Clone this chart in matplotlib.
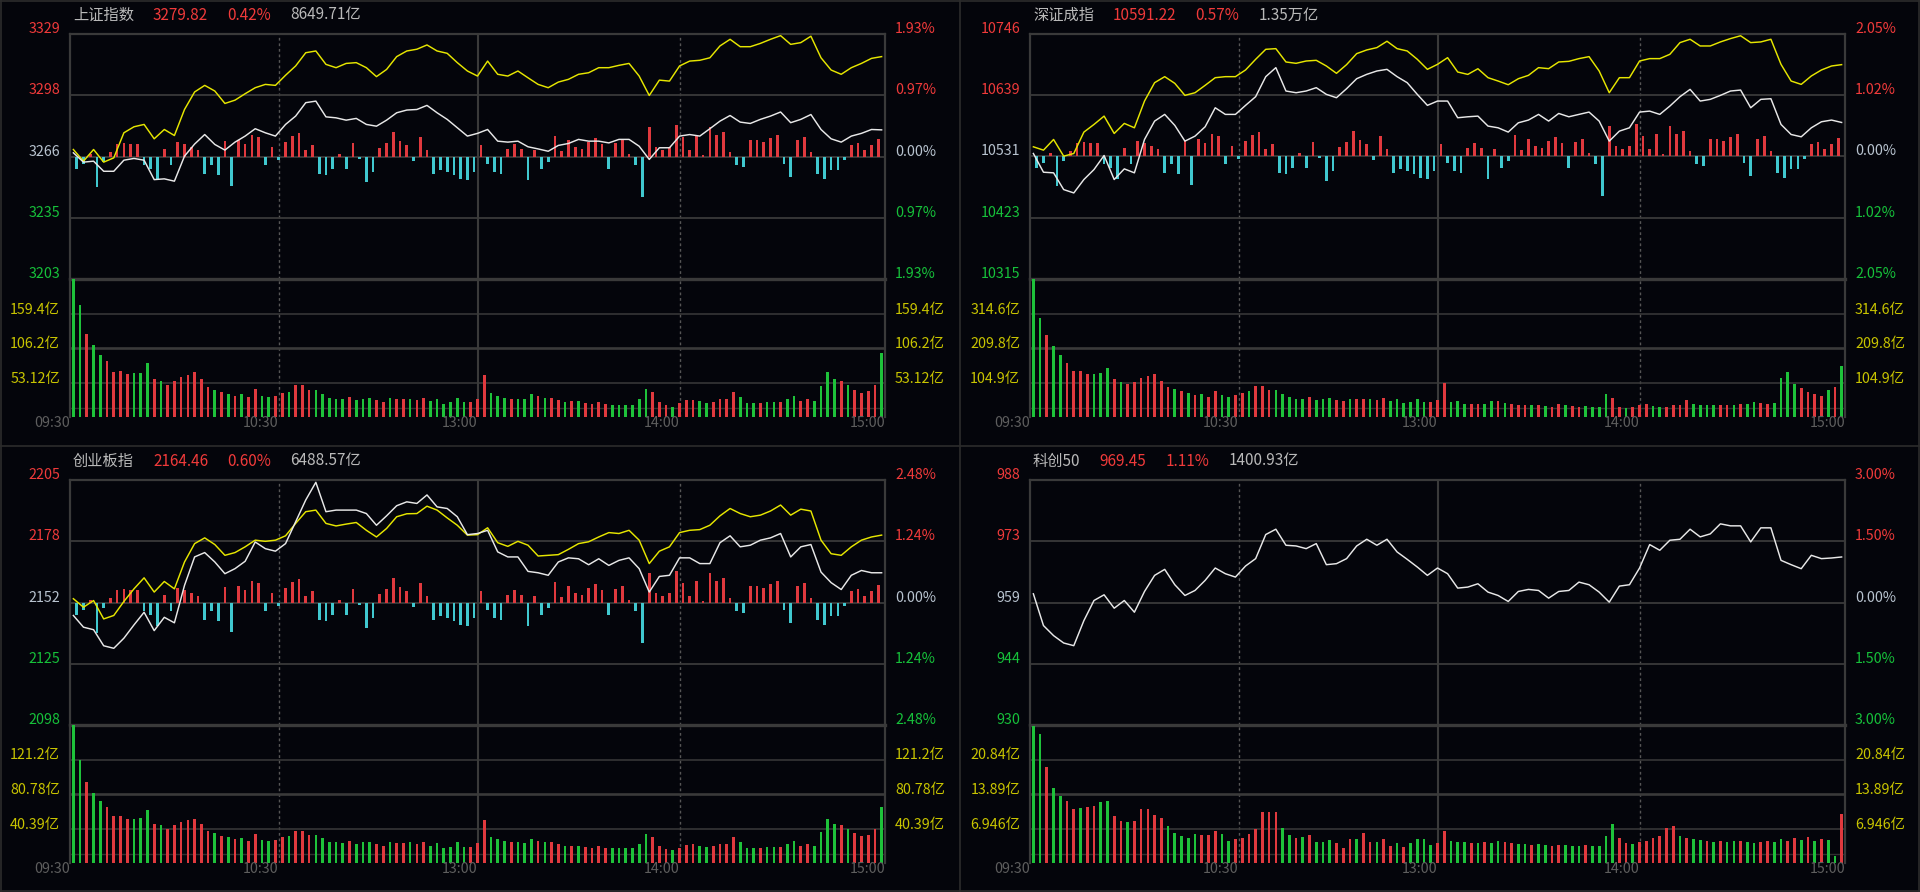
import numpy as np
import matplotlib
matplotlib.use("Agg")
import matplotlib.pyplot as plt
from matplotlib.transforms import offset_copy
from matplotlib.lines import Line2D

plt.rcParams['font.family'] = ['Noto Sans CJK SC', 'DejaVu Sans']

# ---- data (lines sampled every 3 min, bars every 2 min, 09:30 -> 15:00) ----
TIME_LABELS = ["09:30", "10:30", "13:00", "14:00", "15:00"]
TIME_POS = [-1, 61, 120, 180, 241]

SH_WHITE = [3268.0, 3263.2, 3263.7, 3258.5, 3258.5, 3264.2, 3265.1, 3264.2, 3254.2, 3254.6,
            3253.4, 3266.3, 3272.5, 3277.4, 3272.3, 3269.4, 3273.5, 3276.6, 3280.4, 3278.3,
            3276.6, 3282.6, 3286.9, 3293.8, 3294.6, 3286.5, 3286.0, 3284.8, 3285.7, 3282.6,
            3281.7, 3284.8, 3288.6, 3290.0, 3290.3, 3292.4, 3288.6, 3285.2, 3280.9, 3276.6,
            3278.0, 3280.0, 3274.0, 3273.5, 3274.0, 3271.1, 3270.0, 3268.8, 3271.8, 3272.8,
            3274.9, 3274.0, 3274.0, 3273.1, 3274.9, 3274.9, 3271.4, 3264.6, 3270.6, 3270.6,
            3276.6, 3277.4, 3276.6, 3280.4, 3284.3, 3287.2, 3283.8, 3283.1, 3285.2, 3286.9,
            3289.0, 3283.5, 3285.2, 3287.7, 3280.0, 3275.2, 3273.5, 3276.6, 3278.0, 3280.0,
            3279.8]
SH_YELLOW = [3269.7, 3263.7, 3269.7, 3263.2, 3265.4, 3278.3, 3281.4, 3282.6, 3275.2, 3280.0,
             3276.9, 3290.3, 3299.3, 3302.7, 3299.8, 3293.4, 3295.1, 3298.4, 3301.5, 3303.2,
             3302.7, 3307.9, 3312.7, 3319.5, 3320.4, 3313.5, 3311.8, 3314.0, 3314.4, 3311.8,
             3307.2, 3310.9, 3317.5, 3320.4, 3321.3, 3323.5, 3320.4, 3319.2, 3314.4, 3310.1,
             3307.5, 3315.2, 3308.4, 3307.5, 3310.1, 3306.6, 3303.2, 3301.5, 3304.4, 3305.8,
             3308.4, 3309.2, 3311.8, 3311.8, 3313.0, 3314.0, 3307.5, 3297.5, 3305.4, 3304.9,
             3312.7, 3315.2, 3315.6, 3316.9, 3323.0, 3326.4, 3322.6, 3322.6, 3324.3, 3326.4,
             3328.3, 3323.8, 3324.7, 3328.0, 3316.9, 3310.6, 3308.4, 3311.8, 3314.0, 3316.6,
             3317.5]
SH_VOL = [213, 172, 128, 111, 96, 86, 69, 71, 66, 67,
          68, 83, 58, 55, 50, 55, 62, 65, 70, 59,
          46, 42, 38, 36, 33, 35, 31, 43, 33, 31,
          33, 37, 39, 50, 50, 42, 42, 35, 29, 28,
          27, 31, 26, 28, 29, 26, 23, 29, 27, 27,
          28, 26, 30, 24, 27, 20, 23, 29, 23, 23,
          27,
          65, 37, 32, 30, 27, 27, 27, 35, 33, 29,
          29, 26, 23, 24, 24, 22, 20, 23, 20, 19,
          19, 19, 19, 27, 43, 38, 23, 18, 16, 22,
          26, 26, 24, 22, 23, 27, 27, 38, 31, 21,
          21, 22, 23, 23, 23, 27, 33, 24, 27, 24,
          48, 70, 59, 55, 49, 42, 37, 40, 50, 98]
SH_VOL_C = ("ggrggrrrrg" "ggrgrrrrrr" "rgrgrgrrgg" "rrgrrrgggg" "grgggrrgrr" "grrggggggr" "r"
            "rgggrgggrg" "rrgrgrrrrg" "gggggrrrgr" "rrggrrrrgg" "grggrggrrg" "gggrgrrrrg")

SZ_WHITE = [10536.5, 10503.5, 10502.4, 10472.9, 10467.0, 10490.6, 10508.2, 10533.0, 10490.6, 10509.4,
            10502.4, 10561.2, 10593.6, 10605.4, 10586.0, 10558.3, 10567.1, 10583.6, 10617.1, 10605.4,
            10605.4, 10621.3, 10636.6, 10671.9, 10687.8, 10646.6, 10643.6, 10646.6, 10652.5, 10640.7,
            10634.8, 10650.7, 10668.3, 10676.0, 10681.9, 10684.8, 10671.9, 10661.3, 10640.7, 10621.3,
            10628.9, 10628.9, 10599.5, 10601.2, 10602.4, 10584.8, 10581.8, 10574.2, 10590.6, 10595.4,
            10605.4, 10593.6, 10607.1, 10601.2, 10605.4, 10609.5, 10593.6, 10558.3, 10575.9, 10581.8,
            10609.5, 10611.2, 10605.4, 10620.1, 10636.6, 10649.5, 10628.9, 10631.9, 10638.9, 10646.6,
            10648.3, 10617.1, 10631.9, 10633.0, 10587.7, 10570.0, 10565.9, 10581.8, 10592.4, 10595.4,
            10591.2]
SZ_YELLOW = [10548.3, 10542.4, 10561.2, 10531.8, 10536.5, 10574.2, 10587.7, 10602.4, 10571.8, 10589.5,
             10581.8, 10628.9, 10661.3, 10671.9, 10660.1, 10638.9, 10643.6, 10656.6, 10670.1, 10671.9,
             10671.9, 10683.7, 10702.5, 10720.1, 10721.3, 10697.8, 10695.4, 10699.5, 10700.7, 10690.7,
             10677.8, 10693.1, 10712.5, 10719.0, 10723.1, 10734.3, 10721.3, 10717.2, 10702.5, 10684.8,
             10693.6, 10705.4, 10680.1, 10675.9, 10685.9, 10670.1, 10664.2, 10657.7, 10668.3, 10674.2,
             10687.8, 10686.0, 10697.8, 10698.9, 10703.7, 10707.2, 10681.9, 10643.6, 10670.1, 10670.1,
             10699.5, 10703.7, 10703.7, 10711.3, 10731.9, 10737.8, 10726.0, 10726.0, 10733.1, 10739.0,
             10744.0, 10731.9, 10733.1, 10737.8, 10693.6, 10664.2, 10658.3, 10673.1, 10683.7, 10690.7,
             10693.1]
SZ_VOL = [420, 300, 250, 215, 190, 165, 140, 140, 130, 130,
          135, 150, 115, 105, 100, 105, 120, 125, 130, 110,
          90, 85, 78, 72, 68, 70, 62, 80, 66, 62,
          66, 72, 78, 95, 95, 82, 82, 70, 60, 56,
          55, 60, 52, 56, 58, 52, 48, 56, 54, 54,
          56, 52, 58, 48, 54, 42, 46, 56, 46, 46,
          52,
          104, 46, 48, 41, 41, 41, 40, 50, 48, 43,
          41, 38, 35, 35, 36, 33, 31, 40, 35, 33,
          31, 33, 31, 31, 70, 57, 31, 28, 31, 35,
          41, 33, 31, 31, 36, 38, 51, 41, 38, 38,
          36, 38, 38, 36, 40, 41, 47, 43, 41, 43,
          120, 137, 100, 87, 77, 70, 64, 82, 92, 156]
SZ_VOL_C = ("ggrggrrrrg" "ggrgrrrrrr" "rgrgrgrrgg" "rrgrrrgggg" "grgggrrgrr" "grrggggggr" "r"
            "rgggrrggrg" "rrrgrgrrgr" "rggggrrgrr" "rggrrrrggg" "grrgrggrrg" "gggrrrrgrg")

CY_WHITE = [2145.9, 2140.8, 2139.7, 2132.7, 2131.6, 2136.0, 2141.8, 2147.3, 2139.3, 2145.1,
            2142.7, 2159.0, 2171.4, 2173.3, 2169.2, 2164.1, 2166.3, 2169.5, 2177.9, 2175.0,
            2173.9, 2177.2, 2186.7, 2196.2, 2203.9, 2191.1, 2191.8, 2191.8, 2191.8, 2190.3,
            2185.2, 2189.3, 2193.7, 2195.4, 2194.7, 2198.4, 2193.2, 2192.5, 2188.9, 2181.1,
            2181.6, 2183.0, 2173.6, 2171.4, 2171.4, 2165.1, 2164.5, 2163.4, 2169.2, 2171.0,
            2170.6, 2168.0, 2170.6, 2167.7, 2169.9, 2171.0, 2166.3, 2156.1, 2162.9, 2163.4,
            2171.0, 2171.0, 2168.5, 2168.5, 2177.6, 2180.6, 2175.8, 2176.5, 2178.7, 2179.7,
            2181.6, 2171.4, 2175.8, 2176.8, 2164.8, 2160.2, 2157.2, 2163.4, 2165.5, 2164.5,
            2164.5]
CY_YELLOW = [2153.2, 2149.5, 2152.4, 2144.4, 2145.9, 2152.0, 2157.5, 2162.3, 2156.1, 2160.7,
             2157.5, 2169.2, 2177.2, 2179.7, 2176.8, 2172.1, 2173.3, 2175.8, 2178.7, 2178.2,
             2178.7, 2180.6, 2186.0, 2191.1, 2191.8, 2186.0, 2184.9, 2185.7, 2186.4, 2183.0,
             2180.1, 2183.8, 2188.9, 2190.2, 2190.3, 2193.5, 2191.8, 2188.4, 2185.2, 2180.9,
             2181.1, 2184.1, 2177.6, 2176.0, 2178.2, 2176.5, 2171.8, 2172.1, 2172.4, 2174.7,
             2177.2, 2178.0, 2180.1, 2182.0, 2181.6, 2183.0, 2178.7, 2168.5, 2173.9, 2175.8,
             2182.0, 2183.0, 2183.3, 2185.2, 2189.3, 2192.5, 2190.3, 2188.9, 2189.6, 2191.4,
             2194.0, 2189.6, 2192.2, 2191.4, 2178.7, 2172.8, 2172.1, 2175.8, 2178.7, 2180.1,
             2180.9]
CY_VOL = [161, 120, 95, 82, 72, 66, 55, 55, 52, 52,
          53, 62, 46, 44, 40, 44, 48, 50, 52, 46,
          38, 35, 32, 30, 28, 29, 26, 34, 27, 26,
          27, 30, 32, 38, 38, 33, 33, 29, 25, 24,
          23, 26, 22, 24, 24, 22, 20, 24, 23, 23,
          24, 22, 25, 20, 23, 17, 19, 24, 19, 19,
          23,
          50, 30, 28, 26, 24, 24, 23, 28, 26, 24,
          24, 22, 20, 20, 20, 19, 18, 20, 18, 17,
          17, 17, 17, 22, 34, 30, 20, 16, 15, 18,
          21, 22, 20, 19, 20, 22, 22, 30, 25, 18,
          18, 18, 19, 19, 19, 22, 26, 20, 22, 20,
          36, 52, 46, 44, 40, 35, 32, 33, 40, 65]
CY_VOL_C = ("ggrggrrrrg" "ggrgrrrrrr" "rgrgrgrrgg" "rrgrrrgggg" "grgggrrgrr" "grrggggggr" "r"
            "rgggrgggrg" "rrgrgrrrrg" "gggggrrrgr" "rrggrrrrgg" "grggrggrrg" "gggrgrrrrg")

KC_WHITE = [960.85, 953.39, 951.03, 949.30, 948.67, 954.56, 959.28, 960.62, 957.47, 959.28,
            956.53, 961.40, 965.18, 966.59, 962.98, 960.46, 961.64, 964.00, 966.91, 965.57,
            964.78, 967.38, 969.11, 974.77, 976.02, 972.25, 972.09, 971.46, 972.64, 967.69,
            967.93, 969.11, 972.09, 973.66, 972.25, 973.66, 970.68, 968.95, 967.14, 965.18,
            966.91, 965.57, 962.19, 962.43, 963.21, 961.25, 960.46, 959.05, 961.40, 961.88,
            961.64, 959.83, 961.40, 961.64, 963.60, 962.98, 961.25, 958.89, 962.66, 962.98,
            966.91, 972.41, 971.07, 973.43, 973.66, 976.02, 974.22, 974.92, 977.28, 976.81,
            976.81, 973.04, 976.34, 976.34, 968.71, 967.69, 966.75, 969.89, 969.11, 969.26,
            969.50]
KC_VOL = [27.6, 25.9, 19.3, 15.0, 13.4, 12.5, 10.8, 11.0, 11.2, 11.4,
          12.2, 12.5, 9.5, 8.4, 8.3, 8.5, 10.8, 10.8, 9.7, 9.0,
          7.5, 6.1, 5.5, 5.0, 5.8, 5.6, 5.6, 6.5, 5.8, 4.5,
          4.9, 5.0, 5.8, 6.8, 10.2, 10.3, 10.2, 7.1, 5.6, 5.0,
          5.3, 5.6, 4.3, 4.3, 4.7, 4.0, 3.1, 4.9, 4.9, 6.0,
          4.3, 4.3, 4.8, 3.5, 4.1, 3.3, 4.0, 4.8, 4.9, 3.6,
          4.1,
          6.5, 4.5, 4.3, 4.2, 4.0, 4.1, 4.3, 4.0, 4.5, 4.2,
          4.0, 3.9, 3.8, 3.7, 3.8, 3.6, 3.5, 3.7, 3.6, 3.5,
          3.4, 3.6, 3.5, 3.4, 5.5, 7.8, 5.0, 4.0, 3.8, 4.2,
          4.5, 5.0, 5.5, 7.0, 7.5, 5.5, 5.0, 4.8, 4.6, 4.5,
          4.3, 4.5, 4.2, 4.4, 4.5, 4.3, 4.0, 4.2, 4.5, 4.3,
          4.8, 4.5, 5.0, 4.6, 5.2, 4.5, 4.8, 4.6, 1.5, 9.8]
KC_VOL_C = ("ggrggrrgrr" "ggrrgrrrrr" "gggggrrrgg" "rrrrrrrggr" "grgggrrrgr" "rgrrgrgggg" "r"
            "rgggrgrggr" "rggrggrrgg" "grggggrrgr" "rrrrrgrggr" "grggrggrrg" "grrgrgrggr")

# market-wide up/down strength bars in the price pane (every 2 min)
MOMENTUM = [-12, -7, 3, -30, -5, 5, 13, 14, 13, 13,
            -8, -12, -23, 8, -8, 15, 13, 10, 7, -17,
            -8, -18, 16, -29, 17, 13, 22, 20, -8, 10,
            -3, 15, 21, 24, 7, 12, -17, -18, -12, 3,
            -12, 14, -2, -25, -15, 9, 14, 25, 16, 12,
            -4, 20, 7, -17, -13, -15, -18, -22, -23, -15,
            12, -7, -15, -17, 8, 13, 8, -23, 7, -12,
            -5, 21, 6, 17, 10, 8, 15, 19, 13, -12,
            14, 17, 3, -8, -40, 30, 10, 7, 10, 32,
            20, 7, 22, 2, 30, 22, 25, 5, -8, -10,
            17, 17, 15, 19, 22, -7, -20, 17, 20, 5,
            -17, -22, -13, -13, -3, 12, 14, 7, 12, 18]

NAMES = ["上证指数", "深证成指", "创业板指", "科创50"]
LAST = ["3279.82", "10591.22", "2164.46", "969.45"]
CHG = ["0.42%", "0.57%", "0.60%", "1.11%"]
AMOUNT = ["8649.71亿", "1.35万亿", "6488.57亿", "1400.93亿"]
PREV_CLOSE = [3266.1, 10531.2, 2151.55, 958.81]
PCT_RANGE = [1.93, 2.05, 2.48, 3.00]
PRICE_LABELS = [["3329", "3298", "3266", "3235", "3203"],
                ["10746", "10639", "10531", "10423", "10315"],
                ["2205", "2178", "2152", "2125", "2098"],
                ["988", "973", "959", "944", "930"]]
PCT_LABELS = [["1.93%", "0.97%", "0.00%", "0.97%", "1.93%"],
              ["2.05%", "1.02%", "0.00%", "1.02%", "2.05%"],
              ["2.48%", "1.24%", "0.00%", "1.24%", "2.48%"],
              ["3.00%", "1.50%", "0.00%", "1.50%", "3.00%"]]
VOL_STEP = [53.12, 104.9, 40.39, 6.946]
VOL_LABELS = [["159.4亿", "106.2亿", "53.12亿"],
              ["314.6亿", "209.8亿", "104.9亿"],
              ["121.2亿", "80.78亿", "40.39亿"],
              ["20.84亿", "13.89亿", "6.946亿"]]

# ---- style / layout ----
W, H = 1920, 892
BG = "#04050b"
FRAME = "#3a3a3a"
GRID = "#2f2f2f"
DASH = "#565656"
RED, GREEN, CYAN = "#e0393e", "#1ec23a", "#40c8cf"
RED_T, GREEN_T, MID_T = "#f03a3a", "#16c13a", "#b8c3cf"
TITLE_T, YEL_T, TIME_T = "#b9b9b9", "#c8c400", "#5e5e5e"
LBL_COLORS = [RED_T, RED_T, MID_T, GREEN_T, GREEN_T]
PLOT_L, PLOT_R, PRICE_T, PRICE_B, VOL_B = 70, 885, 34, 279, 417
FS = 10.3

fig = plt.figure(figsize=(W / 100, H / 100), dpi=100, facecolor=BG)


def rect(ox, oy, top, bottom):
    return [(ox + PLOT_L) / W, 1 - (oy + bottom) / H, (PLOT_R - PLOT_L) / W, (bottom - top) / H]


def draw_panel(i, ox, oy, white, yellow, vol, volc, mom):
    prev, rng = PREV_CLOSE[i], PCT_RANGE[i]
    lo, hi = prev * (1 - rng / 100), prev * (1 + rng / 100)
    levels = [hi, prev * (1 + rng / 200), prev, prev * (1 - rng / 200), lo]

    ax = fig.add_axes(rect(ox, oy, PRICE_T, PRICE_B))
    vx = fig.add_axes(rect(ox, oy, PRICE_B, VOL_B))
    for a in (ax, vx):
        a.set_facecolor("none")
        a.set_xlim(-1, 241)
        a.set_xticks([]); a.set_yticks([])
        for s in a.spines.values():
            s.set_color(FRAME); s.set_linewidth(1.6)
        a.axvline(61, color=DASH, lw=1, ls=(0, (2, 2)), zorder=1)
        a.axvline(120, color=FRAME, lw=1.5, zorder=1)
        a.axvline(180, color=DASH, lw=1, ls=(0, (2, 2)), zorder=1)
    ax.set_ylim(lo, hi)
    ax.spines["bottom"].set_linewidth(2.4)
    vx.spines["top"].set_visible(False)
    vx.spines["bottom"].set_visible(False)
    for lv in levels[1:4]:
        ax.axhline(lv, color=FRAME, lw=1.3, zorder=1)

    # strength bars, values are in pane pixels
    if mom is not None:
        scale = (hi - lo) / (PRICE_B - PRICE_T)
        mx = np.arange(len(mom)) * 2 + 1
        mv = np.array(mom) * scale
        ax.bar(mx, mv, width=0.8, bottom=prev,
               color=[RED if m > 0 else CYAN for m in mom], zorder=2)

    t = np.arange(len(white)) * 3
    if yellow is not None:
        ax.plot(t, yellow, color="#e6e600", lw=1.05, zorder=3)
    ax.plot(t, white, color="#e8e8e8", lw=1.05, zorder=4)

    # volume pane
    step = VOL_STEP[i]
    vx.set_ylim(0, 4 * step)
    vx.axhline(step, color=FRAME, lw=1.1)
    vx.axhline(2 * step, color=FRAME, lw=1.9)
    vx.axhline(3 * step, color=FRAME, lw=1.1)
    vx.axhline(0.27 * step, color=GRID, lw=1.0)
    bx = np.arange(len(vol)) * 2
    vx.bar(bx, vol, width=0.8, color=[RED if c == "r" else GREEN for c in volc], zorder=2)

    # axis labels
    left = offset_copy(ax.get_yaxis_transform(), fig=fig, x=-10, y=5, units="dots")
    right = offset_copy(ax.get_yaxis_transform(), fig=fig, x=10, y=5, units="dots")
    for lv, pl, cl, col in zip(levels, PRICE_LABELS[i], PCT_LABELS[i], LBL_COLORS):
        ax.text(0, lv, pl, transform=left, ha="right", va="center", color=col, fontsize=FS)
        ax.text(1, lv, cl, transform=right, ha="left", va="center", color=col, fontsize=FS)
    vleft = offset_copy(vx.get_yaxis_transform(), fig=fig, x=-10, y=4, units="dots")
    vright = offset_copy(vx.get_yaxis_transform(), fig=fig, x=10, y=4, units="dots")
    for k, lab in zip([3, 2, 1], VOL_LABELS[i]):
        vx.text(0, k * step, lab, transform=vleft, ha="right", va="center", color=YEL_T, fontsize=FS)
        vx.text(1, k * step, lab, transform=vright, ha="left", va="center", color=YEL_T, fontsize=FS)
    tt = offset_copy(vx.get_xaxis_transform(), fig=fig, x=0, y=-6, units="dots")
    for p, lab in zip(TIME_POS, TIME_LABELS):
        vx.text(p, 0, lab, transform=tt, ha="right", va="center", color=TIME_T, fontsize=FS)

    # title row
    renderer = fig.canvas.get_renderer()
    x = ox + 73
    for s, col in zip([NAMES[i], LAST[i], CHG[i], AMOUNT[i]], [TITLE_T, RED_T, RED_T, TITLE_T]):
        txt = fig.text(x / W, 1 - (oy + 15) / H, s, ha="left", va="center", color=col, fontsize=11)
        x = txt.get_window_extent(renderer).x1 + 19


draw_panel(0, 0, 0, SH_WHITE, SH_YELLOW, SH_VOL, SH_VOL_C, MOMENTUM)
draw_panel(1, 960, 0, SZ_WHITE, SZ_YELLOW, SZ_VOL, SZ_VOL_C, MOMENTUM)
draw_panel(2, 0, 446, CY_WHITE, CY_YELLOW, CY_VOL, CY_VOL_C, MOMENTUM)
draw_panel(3, 960, 446, KC_WHITE, None, KC_VOL, KC_VOL_C, None)

# panel separators and outer frame
for xs, ys in [([0.5, 0.5], [0, 1]), ([0, 1], [0.5, 0.5]), ([0, 1], [0.999, 0.999]),
               ([0.0005, 0.0005], [0, 1]), ([0.9995, 0.9995], [0, 1]), ([0, 1], [0.001, 0.001])]:
    fig.add_artist(Line2D(xs, ys, color="#2c2c2c", lw=1.2))

fig.savefig("out.png", dpi=100, facecolor=BG)
